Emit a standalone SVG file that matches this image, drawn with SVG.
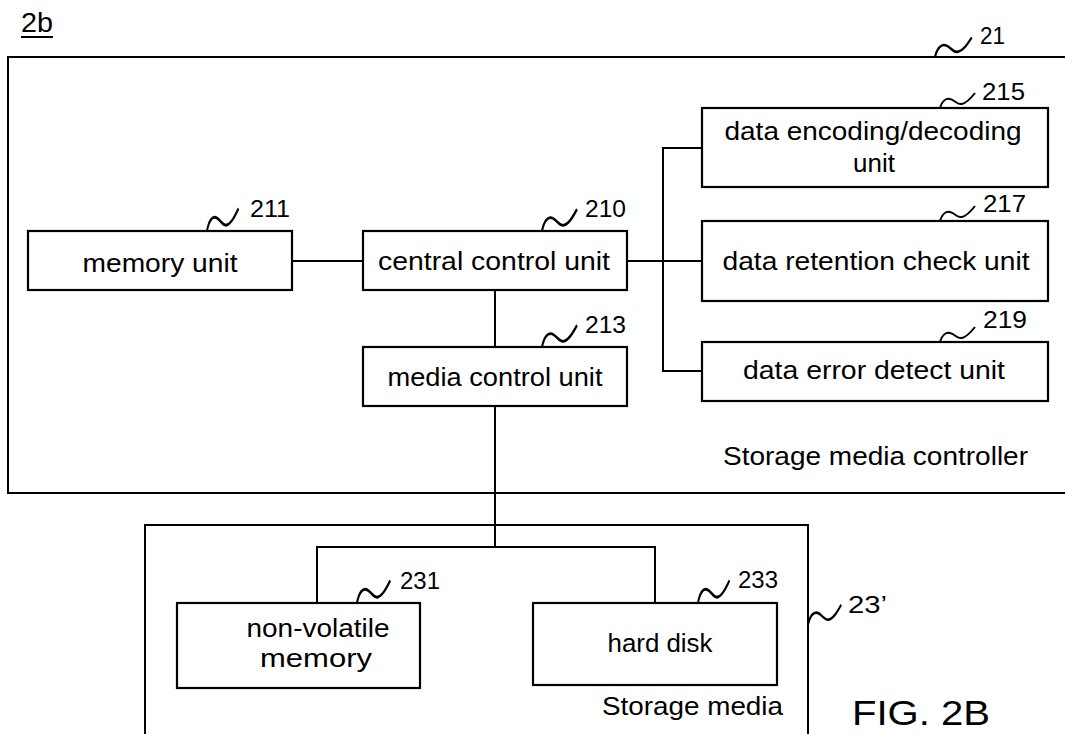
<svg xmlns="http://www.w3.org/2000/svg" width="1065" height="734" viewBox="0 0 1065 734">
<style>
.box{fill:#fff;stroke:#000;stroke-width:2.2}
.frame{fill:none;stroke:#000;stroke-width:2}
.wire{fill:none;stroke:#000;stroke-width:2}
.sq{fill:none;stroke:#000;stroke-width:2}
text{font-family:"Liberation Sans",Arial,sans-serif;fill:#000}
.lbl{font-size:26px;text-anchor:middle}
.num{font-size:23px}
</style>
<defs>
<path id="squig" d="M0,0 C2,-7 6,-10 10,-9 C15,-8 17,-3 22,-4 C27,-5 31,-10 35,-15" class="sq"/>
</defs>
<rect width="1065" height="734" fill="#fff"/>
<g id="title">
<text x="21" y="32" style="font-size:27px" textLength="32" lengthAdjust="spacingAndGlyphs">2b</text>
<line x1="21" y1="37" x2="53" y2="37" stroke="#000" stroke-width="2"/>
</g>
<g id="controller21">
<rect class="frame" x="8" y="57" width="1070" height="436"/>
<use href="#squig" transform="translate(935,57) scale(1.05,1.3)"/>
<text class="num" x="980" y="44" textLength="25" lengthAdjust="spacingAndGlyphs">21</text>
<text x="723" y="465" style="font-size:25px" textLength="305" lengthAdjust="spacingAndGlyphs">Storage media controller</text>
</g>
<g id="media23">
<rect class="frame" x="145" y="525" width="663" height="230"/>
<use href="#squig" transform="translate(808,625) scale(0.95,1.35)"/>
<text class="num" x="848" y="613" textLength="39" lengthAdjust="spacingAndGlyphs">23’</text>
<text x="602" y="715" style="font-size:25px" textLength="181" lengthAdjust="spacingAndGlyphs">Storage media</text>
</g>
<g id="connectors">
<path class="wire" d="M292,261 H363"/>
<path class="wire" d="M495,290 V347"/>
<path class="wire" d="M495,406 V547"/>
<path class="wire" d="M317,603 V547 H655 V603"/>
<path class="wire" d="M627,261 H702"/>
<path class="wire" d="M702,148 H663 V371 H702"/>
</g>
<g id="n211">
<rect class="box" x="28" y="231" width="264" height="59"/>
<text class="lbl" x="160" y="272" textLength="155" lengthAdjust="spacingAndGlyphs">memory unit</text>
<use href="#squig" transform="translate(207,231) scale(0.9,1.5)"/>
<text class="num" x="250" y="217" textLength="40" lengthAdjust="spacingAndGlyphs">211</text>
</g>
<g id="n210">
<rect class="box" x="363" y="231" width="264" height="59"/>
<text class="lbl" x="494" y="270" textLength="232" lengthAdjust="spacingAndGlyphs">central control unit</text>
<use href="#squig" transform="translate(542,231) scale(1,1.45)"/>
<text class="num" x="585" y="217" textLength="41" lengthAdjust="spacingAndGlyphs">210</text>
</g>
<g id="n213">
<rect class="box" x="363" y="347" width="264" height="59"/>
<text class="lbl" x="495" y="386" textLength="215" lengthAdjust="spacingAndGlyphs">media control unit</text>
<use href="#squig" transform="translate(542,347) scale(1,1.45)"/>
<text class="num" x="585" y="333" textLength="41" lengthAdjust="spacingAndGlyphs">213</text>
</g>
<g id="n215">
<rect class="box" x="702" y="108" width="346" height="79"/>
<text class="lbl" x="873" y="140" textLength="297" lengthAdjust="spacingAndGlyphs">data encoding/decoding</text>
<text class="lbl" x="874" y="172">unit</text>
<use href="#squig" transform="translate(940,108)"/>
<text class="num" x="982" y="100" textLength="43" lengthAdjust="spacingAndGlyphs">215</text>
</g>
<g id="n217">
<rect class="box" x="702" y="221" width="346" height="80"/>
<text class="lbl" x="876" y="270" textLength="307" lengthAdjust="spacingAndGlyphs">data retention check unit</text>
<use href="#squig" transform="translate(940,221)"/>
<text class="num" x="983" y="212" textLength="43" lengthAdjust="spacingAndGlyphs">217</text>
</g>
<g id="n219">
<rect class="box" x="702" y="342" width="346" height="59"/>
<text class="lbl" x="874" y="379" textLength="262" lengthAdjust="spacingAndGlyphs">data error detect unit</text>
<use href="#squig" transform="translate(940,342)"/>
<text class="num" x="983" y="328" textLength="44" lengthAdjust="spacingAndGlyphs">219</text>
</g>
<g id="n231">
<rect class="box" x="177" y="603" width="243" height="85"/>
<text class="lbl" x="318" y="637" textLength="143" lengthAdjust="spacingAndGlyphs">non-volatile</text>
<text class="lbl" x="316" y="667" textLength="112" lengthAdjust="spacingAndGlyphs">memory</text>
<use href="#squig" transform="translate(357,603) scale(0.95,1.5)"/>
<text class="num" x="400" y="589" textLength="40" lengthAdjust="spacingAndGlyphs">231</text>
</g>
<g id="n233">
<rect class="box" x="533" y="603" width="244" height="82"/>
<text class="lbl" x="660" y="652" textLength="105" lengthAdjust="spacingAndGlyphs">hard disk</text>
<use href="#squig" transform="translate(698,603) scale(0.9,1.5)"/>
<text class="num" x="738" y="588" textLength="40" lengthAdjust="spacingAndGlyphs">233</text>
</g>
<g id="fig">
<text x="852" y="725" style="font-size:35px" textLength="138" lengthAdjust="spacingAndGlyphs">FIG. 2B</text>
</g>
</svg>
